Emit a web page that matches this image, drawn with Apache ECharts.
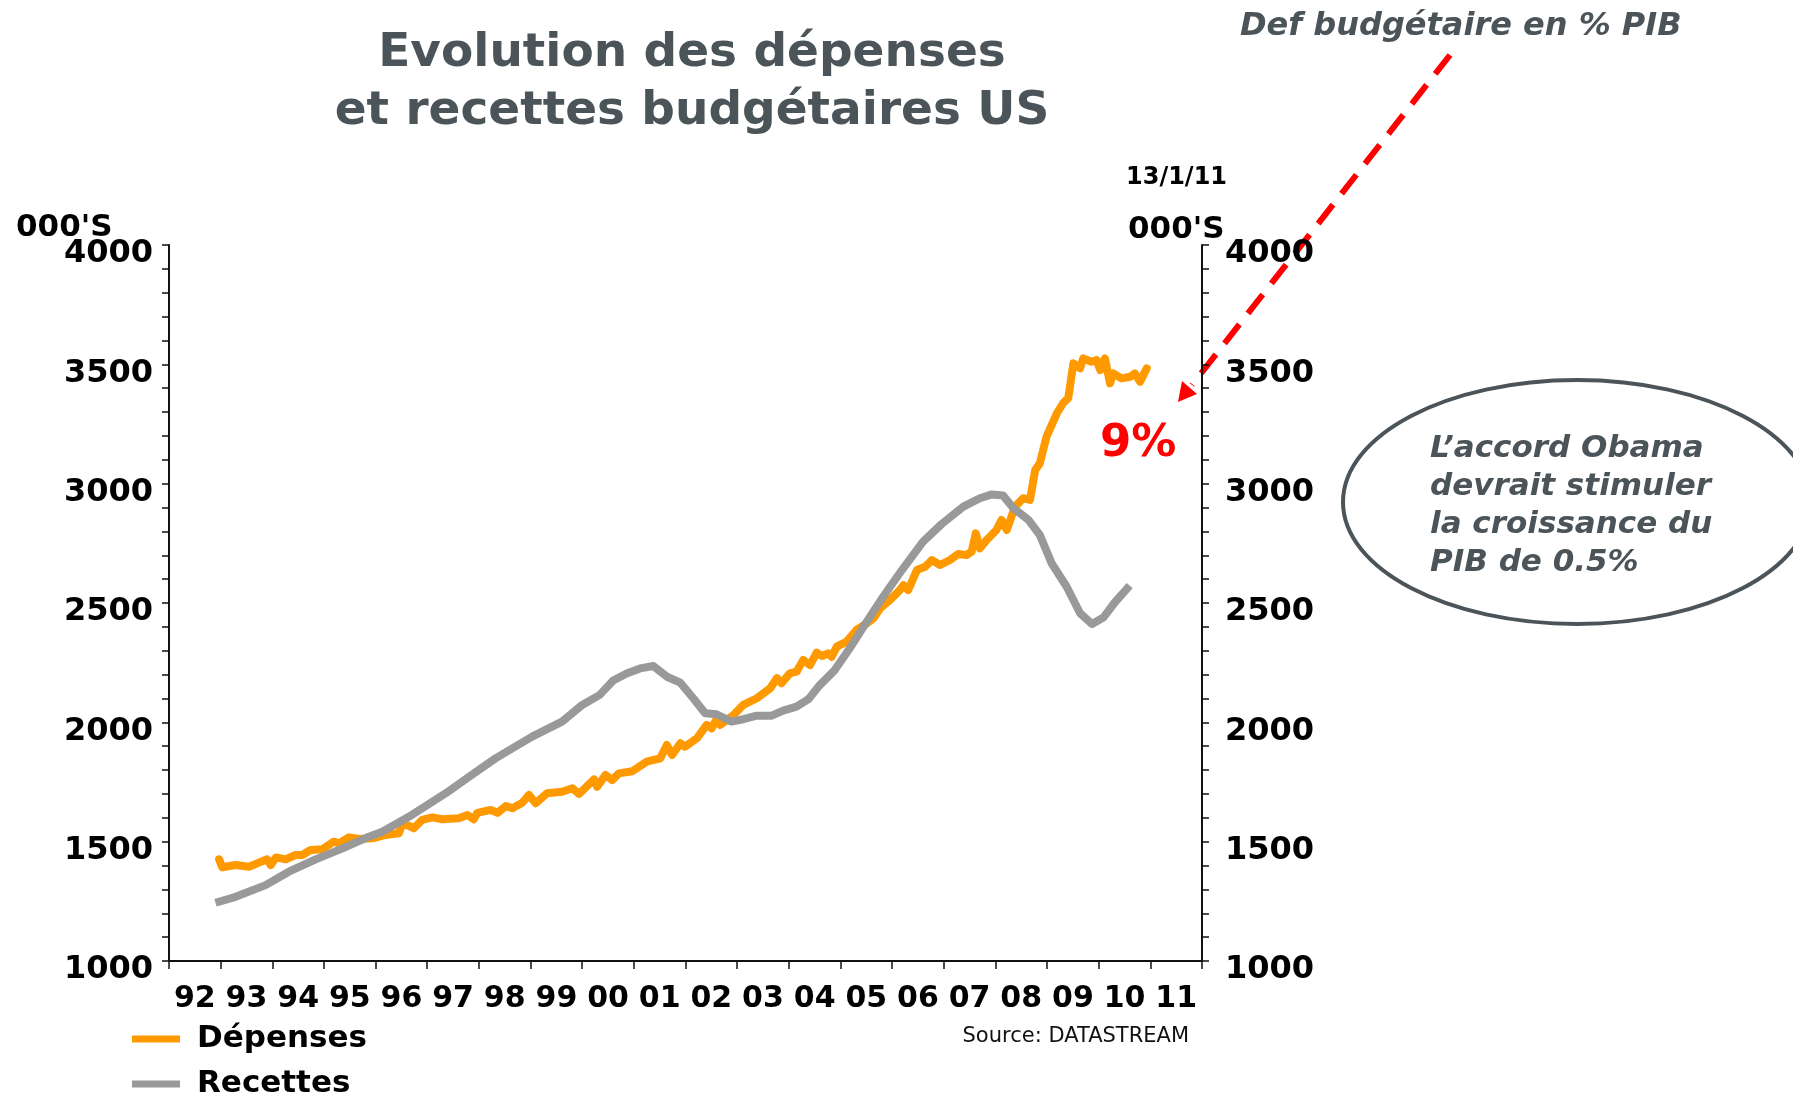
<!DOCTYPE html>
<html>
<head>
<meta charset="utf-8">
<script src="https://cdn.jsdelivr.net/npm/echarts@6/dist/echarts.min.js"></script>
<style>
  html, body { margin: 0; padding: 0; background: #fff; }
  #chart { width: 1793px; height: 1094px; }
</style>
</head>
<body>
<div id="chart"></div>
<script>
// libellés de l'axe des années (centrés dans chaque année)
let yearLabels = ['92', '93', '94', '95', '96', '97', '98', '99', '00', '01',
    '02', '03', '04', '05', '06', '07', '08', '09', '10', '11'];

// Dépenses budgétaires US, [année décimale, milliards $]
let depenses = [
    [1992.97, 1426], [1993.03, 1393], [1993.29, 1402], [1993.55, 1395], [1993.74, 1412],
    [1993.90, 1426], [1993.97, 1402], [1994.07, 1434], [1994.26, 1426], [1994.45, 1444],
    [1994.58, 1444], [1994.74, 1465], [1994.97, 1468], [1995.19, 1500], [1995.29, 1493],
    [1995.48, 1518], [1995.68, 1511], [1995.94, 1514], [1996.19, 1528], [1996.45, 1535],
    [1996.52, 1577], [1996.65, 1566], [1996.74, 1556], [1996.90, 1591], [1997.10, 1602],
    [1997.29, 1594], [1997.61, 1598], [1997.78, 1612], [1997.90, 1594], [1997.97, 1621],
    [1998.23, 1633], [1998.36, 1621], [1998.52, 1649], [1998.65, 1640], [1998.84, 1663],
    [1998.97, 1696], [1999.10, 1661], [1999.32, 1703], [1999.61, 1709], [1999.81, 1724],
    [1999.94, 1700], [2000.23, 1761], [2000.29, 1730], [2000.45, 1779], [2000.58, 1758],
    [2000.71, 1786], [2000.97, 1795], [2001.10, 1814], [2001.25, 1835], [2001.51, 1849],
    [2001.64, 1905], [2001.74, 1863], [2001.90, 1912], [2001.99, 1898], [2002.22, 1933],
    [2002.41, 1989], [2002.51, 1975], [2002.60, 2013], [2002.67, 1989], [2002.93, 2031],
    [2003.12, 2073], [2003.38, 2101], [2003.64, 2143], [2003.77, 2185], [2003.86, 2164],
    [2004.02, 2205], [2004.15, 2212], [2004.28, 2261], [2004.41, 2240], [2004.54, 2292],
    [2004.64, 2278], [2004.76, 2289], [2004.83, 2275], [2004.93, 2317], [2005.12, 2338],
    [2005.31, 2387], [2005.51, 2415], [2005.64, 2436], [2005.77, 2478], [2005.96, 2513],
    [2006.15, 2554], [2006.22, 2575], [2006.31, 2554], [2006.48, 2638], [2006.64, 2652],
    [2006.77, 2680], [2006.93, 2659], [2007.12, 2680], [2007.28, 2705], [2007.44, 2701],
    [2007.54, 2715], [2007.62, 2792], [2007.70, 2729], [2007.83, 2764], [2008.02, 2806],
    [2008.12, 2848], [2008.22, 2806], [2008.38, 2904], [2008.54, 2939], [2008.67, 2932],
    [2008.77, 3057], [2008.86, 3085], [2008.99, 3197], [2009.19, 3295], [2009.31, 3337],
    [2009.41, 3358], [2009.51, 3504], [2009.64, 3483], [2009.70, 3525], [2009.86, 3511],
    [2009.96, 3518], [2010.03, 3476], [2010.12, 3525], [2010.22, 3420], [2010.28, 3462],
    [2010.44, 3441], [2010.61, 3448], [2010.70, 3462], [2010.80, 3427], [2010.93, 3483]
];

// Recettes budgétaires US
let recettes = [
    [1992.90, 1244], [1993.29, 1269], [1993.87, 1318], [1994.32, 1374], [1994.84, 1426],
    [1995.36, 1472], [1995.87, 1521], [1996.13, 1542], [1996.65, 1605], [1997.36, 1703],
    [1997.81, 1772], [1998.32, 1849], [1999.03, 1940], [1999.61, 2003], [2000.00, 2073],
    [2000.34, 2115], [2000.60, 2175], [2000.86, 2205], [2001.12, 2226], [2001.38, 2236],
    [2001.64, 2191], [2001.90, 2166], [2002.15, 2101], [2002.38, 2038], [2002.60, 2034],
    [2002.89, 2003], [2003.12, 2013], [2003.38, 2028], [2003.67, 2028], [2003.89, 2049],
    [2004.15, 2066], [2004.38, 2097], [2004.60, 2156], [2004.89, 2219], [2005.18, 2310],
    [2005.51, 2422], [2005.83, 2527], [2006.19, 2638], [2006.60, 2757], [2006.96, 2831],
    [2007.38, 2904], [2007.70, 2939], [2007.93, 2955], [2008.15, 2950], [2008.35, 2897],
    [2008.64, 2848], [2008.86, 2785], [2009.09, 2666], [2009.38, 2568], [2009.64, 2457],
    [2009.87, 2412], [2010.09, 2439], [2010.31, 2502], [2010.60, 2573]
];

let FONT = 'DejaVu Sans';
let GREY_TXT = '#4b5459';

let myChart = echarts.init(document.getElementById('chart'));

function yAxisCfg(pos, margin) {
    return {
        type: 'value',
        position: pos,
        min: 1000,
        max: 4000,
        interval: 500,
        axisLine: {show: true, lineStyle: {color: '#111', width: 2}},
        axisTick: {show: true, length: 7, lineStyle: {color: '#111', width: 1.5}},
        minorTick: {show: true, splitNumber: 5, length: 7, lineStyle: {color: '#111', width: 1.5}},
        splitLine: {show: false},
        axisLabel: {
            margin: margin,
            color: '#000',
            fontFamily: FONT,
            fontWeight: 'bold',
            fontSize: 32,
            verticalAlign: 'top',
            lineHeight: 18,
            formatter: function (v) {
                return String(v);
            }
        }
    };
}

function legendCfg(name, top) {
    return {
        orient: 'horizontal',
        left: 132,
        top: top,
        padding: 0,
        itemWidth: 48,
        itemHeight: 7,
        icon: 'rect',
        data: [name],
        textStyle: {
            fontFamily: FONT,
            fontWeight: 'bold',
            fontSize: 31,
            lineHeight: 34,
            color: '#000',
            padding: [0, 0, 0, 12]
        }
    };
}

let option = {
    animation: false,
    backgroundColor: '#fff',
    title: {
        text: 'Evolution des dépenses\net recettes budgétaires US',
        left: 687,
        top: 20,
        textAlign: 'center',
        textStyle: {
            fontFamily: FONT,
            fontWeight: 'bold',
            fontSize: 47,
            lineHeight: 58,
            color: GREY_TXT
        }
    },
    legend: [legendCfg('Dépenses', 1022), legendCfg('Recettes', 1067)],
    grid: {
        left: 169,
        right: 591,
        top: 245,
        bottom: 133,
        outerBoundsMode: 'none'
    },
    xAxis: [
        {
            type: 'value',
            min: 1992,
            max: 2012,
            show: false
        },
        {
            type: 'category',
            position: 'bottom',
            data: yearLabels,
            boundaryGap: true,
            axisLine: {show: true, lineStyle: {color: '#111', width: 2}},
            axisTick: {show: true, interval: 0, length: 8, lineStyle: {color: '#111', width: 1.5}},
            axisLabel: {
                interval: 0,
                margin: 23,
                color: '#000',
                fontFamily: FONT,
                fontWeight: 'bold',
                fontSize: 30
            }
        }
    ],
    yAxis: [yAxisCfg('left', 16), yAxisCfg('right', 23)],
    series: [
        {
            name: 'Dépenses',
            type: 'line',
            xAxisIndex: 0,
            yAxisIndex: 0,
            showSymbol: false,
            symbol: 'none',
            lineStyle: {color: '#ff9900', width: 8, join: 'round', cap: 'round'},
            itemStyle: {color: '#ff9900'},
            data: depenses
        },
        {
            name: 'Recettes',
            type: 'line',
            xAxisIndex: 0,
            yAxisIndex: 0,
            showSymbol: false,
            symbol: 'none',
            lineStyle: {color: '#999999', width: 8, join: 'round'},
            itemStyle: {color: '#999999'},
            data: recettes
        }
    ],
    graphic: [
        // unités des axes
        {type: 'text', left: 16, top: 212, style: {text: "000'S", font: 'bold 31px "DejaVu Sans"', fill: '#000'}},
        {type: 'text', left: 1128, top: 214, style: {text: "000'S", font: 'bold 31px "DejaVu Sans"', fill: '#000'}},
        {type: 'text', left: 1126, top: 166, style: {text: '13/1/11', font: 'bold 24px "DejaVu Sans"', fill: '#000'}},
        // source
        {type: 'text', right: 1793 - 1189, top: 1026, style: {text: 'Source: DATASTREAM', font: '21px "DejaVu Sans"', fill: '#111'}},
        // déficit budgétaire
        {type: 'text', left: 1240, top: 11, style: {text: 'Def budgétaire en % PIB', font: 'italic bold 32px "DejaVu Sans"', fill: GREY_TXT}},
        {
            type: 'line',
            shape: {x1: 1450, y1: 55, x2: 1192, y2: 385},
            style: {stroke: '#ff0000', lineWidth: 6, lineDash: [24, 14]}
        },
        {
            type: 'polygon',
            shape: {points: [[1178, 402], [1197, 394], [1182, 381]]},
            style: {fill: '#ff0000'}
        },
        {type: 'text', left: 1100, top: 422, style: {text: '9%', font: 'bold 45px "DejaVu Sans"', fill: '#ff0000'}},
        // bulle de commentaire
        {
            type: 'ellipse',
            shape: {cx: 1577, cy: 502, rx: 234, ry: 122},
            style: {fill: 'none', stroke: GREY_TXT, lineWidth: 4}
        },
        {
            type: 'text', left: 1430, top: 430,
            style: {
                text: 'L\u2019accord Obama\ndevrait stimuler\nla croissance du\nPIB de 0.5%',
                font: 'italic bold 31px "DejaVu Sans"',
                lineHeight: 38,
                fill: GREY_TXT
            }
        }
    ]
};

myChart.setOption(option);
</script>
</body>
</html>
